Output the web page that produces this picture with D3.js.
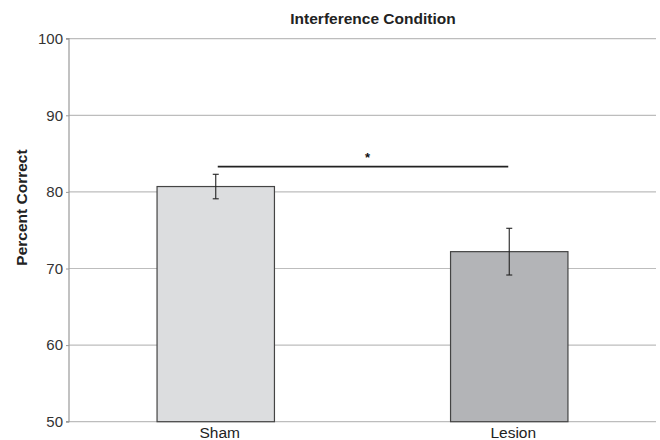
<!DOCTYPE html>
<html><head><meta charset="utf-8">
<script src="https://cdn.jsdelivr.net/npm/d3@7"></script>
<style>body{margin:0;background:#fff}svg{display:block;font-family:"Liberation Sans",Arial,sans-serif}</style>
</head><body>
<svg id="c" width="660" height="440"></svg>
<script>
const categories = ["Sham", "Lesion"];
const values = [80.7, 72.2];
const errors = [1.6, 3.05];
const fills = ["#dcdddf", "#b3b4b7"];
const yTicks = [50, 60, 70, 80, 90, 100];
const sigLevel = 83.3;
const sigLabel = "*";
const title = "Interference Condition";
const yLabel = "Percent Correct";

const svg = d3.select("#c");
const L = 69, R = 656, T = 38.7, B = 421.7;
const x = d3.scaleBand().domain(categories).range([L, R]).padding(0);
const y = d3.scaleLinear().domain([50, 100]).range([B, T]);
const barW = x.bandwidth() * 0.4;

// gridlines
svg.append("g").selectAll("line").data(yTicks).join("line")
  .attr("x1", L).attr("x2", R)
  .attr("y1", d => y(d)).attr("y2", d => y(d))
  .attr("stroke", "#bdbdbd").attr("stroke-width", 1.2);

// y axis
const yAxis = d3.axisLeft(y).tickValues(yTicks).tickSize(3).tickPadding(3);
const ga = svg.append("g").attr("transform", `translate(${L},0)`).call(yAxis);
ga.select(".domain").attr("stroke", "#9a9a9a").attr("stroke-width", 1.2).attr("d", `M-3,${B}H0V${T}H-3`);
ga.selectAll(".tick line").attr("stroke", "#9a9a9a");
ga.selectAll(".tick text").attr("fill", "#333").style("font-size", "15px")
  .attr("dy", "0.32em");

// bars
const cx = c => x(c) + x.bandwidth() / 2;
svg.append("g").selectAll("rect").data(categories).join("rect")
  .attr("x", c => cx(c) - barW / 2)
  .attr("width", barW)
  .attr("y", (c, i) => y(values[i]))
  .attr("height", (c, i) => y(50) - y(values[i]))
  .attr("fill", (c, i) => fills[i])
  .attr("stroke", "#444").attr("stroke-width", 1.2);

// error bars
const eb = svg.append("g").attr("stroke", "#222").attr("stroke-width", 1.1);
categories.forEach((c, i) => {
  const xc = cx(c);
  eb.append("line").attr("x1", xc).attr("x2", xc).attr("y1", y(values[i] + errors[i])).attr("y2", y(values[i] - errors[i]));
  [values[i] + errors[i], values[i] - errors[i]].forEach(v =>
    eb.append("line").attr("x1", xc - 3).attr("x2", xc + 3).attr("y1", y(v)).attr("y2", y(v)));
});

// x labels
svg.append("g").selectAll("text").data(categories).join("text")
  .attr("x", c => cx(c) + 4).attr("y", 437.5)
  .attr("text-anchor", "middle").attr("fill", "#222").style("font-size", "15.5px")
  .text(c => c);

// significance
svg.append("line").attr("x1", cx(categories[0]) + 2).attr("x2", cx(categories[1]) - 1)
  .attr("y1", y(sigLevel)).attr("y2", y(sigLevel))
  .attr("stroke", "#222").attr("stroke-width", 1.8);
svg.append("text").attr("x", 367.5).attr("y", 162)
  .attr("text-anchor", "middle").attr("fill", "#111")
  .style("font-size", "13px").style("font-weight", "bold").text(sigLabel);

// title
svg.append("text").attr("x", 373).attr("y", 24)
  .attr("text-anchor", "middle").attr("fill", "#222")
  .style("font-size", "15.5px").style("font-weight", "bold").text(title);

// y label
svg.append("text").attr("transform", "translate(27,207.5) rotate(-90)")
  .attr("text-anchor", "middle").attr("fill", "#222")
  .style("font-size", "15.5px").style("font-weight", "bold").text(yLabel);
</script>
</body></html>
